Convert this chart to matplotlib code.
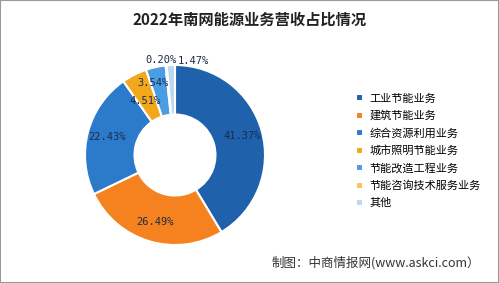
import numpy as np
import matplotlib
matplotlib.use('Agg')
import matplotlib.pyplot as plt
from matplotlib.patches import Rectangle

plt.rcParams['font.family'] = ['Noto Sans CJK SC', 'DejaVu Sans']

title = '2022年南网能源业务营收占比情况'
cats = ['工业节能业务', '建筑节能业务', '综合资源利用业务', '城市照明节能业务',
        '节能改造工程业务', '节能咨询技术服务业务', '其他']
vals = [41.37, 26.49, 22.43, 4.51, 3.54, 0.20, 1.47]
colors = ['#1f62ab', '#f5811f', '#2c7bcb', '#f2a81b', '#4a9de3', '#f8c35e', '#bcd8ef']
source = '制图：中商情报网(www.askci.com）'

fig = plt.figure(figsize=(4.99, 2.83), dpi=100)
fig.patch.set_facecolor('white')

# 圆环位置 (像素换算)
cx, cy, r = 175, 283 - 155, 90
ax = fig.add_axes([(cx - r) / 499, (cy - r) / 283, 2 * r / 499, 2 * r / 283])
wedges, texts, autotexts = ax.pie(vals, colors=colors, startangle=90, counterclock=False,
                                  autopct='%.2f%%', pctdistance=0.78,
                                  wedgeprops=dict(width=0.55, edgecolor='white', linewidth=1.5),
                                  textprops=dict(fontsize=7.5, color='#1c2b4a', family='DejaVu Sans Mono'))
ax.set_xlim(-1, 1)
ax.set_ylim(-1, 1)
ax.set_aspect('auto')

# 小扇区标签手动放置
for t, (ang, rr) in zip(autotexts[3:5], [(119, 0.69), (107, 0.84)]):
    a = np.deg2rad(ang)
    t.set_position((rr * np.cos(a), rr * np.sin(a)))
autotexts[5].set_ha('right')
autotexts[6].set_ha('left')
autotexts[5].set_position((0.02, 1.06))
autotexts[6].set_position((0.03, 1.04))

fig.text(0.5, 1 - 20 / 283, title, ha='center', va='center', fontsize=11, fontweight='bold',
         color='#222222')

fig.legend(wedges, cats, loc='upper left', bbox_to_anchor=(352 / 499, 1 - 89 / 283),
           frameon=False, fontsize=8, handlelength=0.6, handleheight=0.6,
           handletextpad=0.6, labelspacing=0.62, borderaxespad=0)

fig.text(272 / 499, 1 - 263 / 283, source, ha='left', va='center', fontsize=9, color='#333333')

fig.patches.append(Rectangle((0, 0), 1, 1, transform=fig.transFigure, fill=False,
                             edgecolor='#999999', linewidth=1.5))

fig.savefig('out.png', dpi=100)
